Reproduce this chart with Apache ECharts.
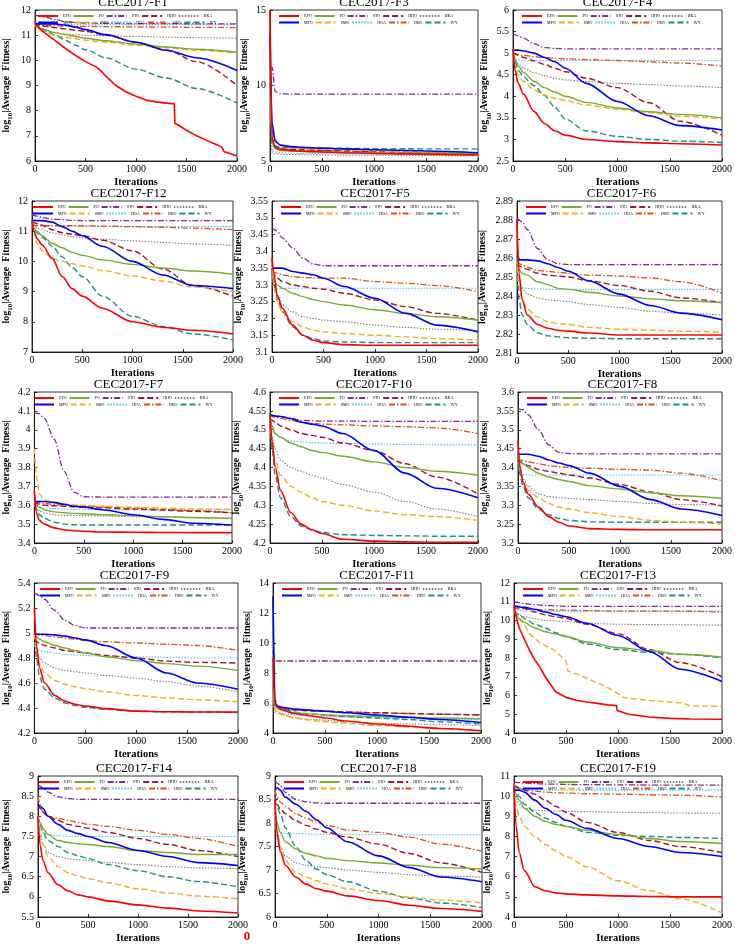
<!DOCTYPE html>
<html><head><meta charset="utf-8">
<script src="https://cdn.jsdelivr.net/npm/echarts/dist/echarts.min.js"></script>
<style>html,body{margin:0;padding:0;background:#fff}#c{width:735px;height:945px}</style>
</head><body><div id="c"></div><script>
const ITER = [0, 20, 50, 100, 200, 300, 400, 500, 700, 1000, 1300, 1600, 2000];
const NAMES = ['EPO','MPO','PO','SMO','STO','HOA','HHO','DBO','BKA','IVY'];
const LEG_ROW1 = ['EPO','PO','STO','HHO','BKA'];
const LEG_ROW2 = ['MPO','SMO','HOA','DBO','IVY'];
const TITLES = ['CEC2017-F1','CEC2017-F3','CEC2017-F4','CEC2017-F12','CEC2017-F5','CEC2017-F6','CEC2017-F7','CEC2017-F10','CEC2017-F8','CEC2017-F9','CEC2017-F11','CEC2017-F13','CEC2017-F14','CEC2017-F18','CEC2017-F19'];
const Y_MIN = [6, 5, 2.5, 7, 3.1, 2.81, 3.4, 4.2, 3.2, 4.2, 4, 4, 5.5, 6, 4];
const Y_MAX = [12, 15, 6, 12, 3.55, 2.89, 4.2, 4.6, 3.6, 5.4, 14, 12, 9, 9, 11];
const Y_INT = [1, 5, 0.5, 1, 0.05, 0.01, 0.1, 0.05, 0.05, 0.2, 2, 1, 0.5, 0.5, 1];
const X_TICKS = [0, 500, 1000, 1500, 2000];

// ---- F1 ----
const F1_EPO = [[0,11.5],[20,11.38],[50,11.25],[100,11.08],[200,10.78],[300,10.48],[400,10.2],[500,9.95],[600,9.75],[650,9.6],[700,9.38],[800,9.0],[900,8.75],[1000,8.57],[1100,8.42],[1200,8.35],[1300,8.3],[1380,8.27],[1385,7.5],[1450,7.35],[1500,7.22],[1600,7.0],[1700,6.82],[1800,6.65],[1850,6.55],[1870,6.38],[1950,6.27],[2000,6.2]];
const F1_MPO = [11.45,11.45,11.45,11.45,11.45,11.4,11.32,11.22,11.02,10.72,10.4,10.1,9.6];
const F1_PO  = [11.5,11.35,11.28,11.2,11.1,11.02,10.95,10.88,10.78,10.65,10.53,10.44,10.32];
const F1_SMO = [11.5,11.3,11.2,11.1,11.0,10.92,10.86,10.8,10.72,10.6,10.5,10.4,10.3];
const F1_STO = [11.8,11.78,11.76,11.72,11.62,11.53,11.5,11.48,11.47,11.46,11.46,11.45,11.45];
const F1_HOA = [11.5,11.46,11.44,11.43,11.42,11.42,11.42,11.42,11.42,11.42,11.42,11.42,11.42];
const F1_HHO = [11.55,11.45,11.4,11.35,11.3,11.25,11.2,11.15,11.0,10.72,10.4,9.95,9.0];
const F1_DBO = [11.5,11.42,11.4,11.38,11.37,11.36,11.35,11.35,11.34,11.33,11.32,11.31,11.3];
const F1_BKA = [11.5,11.3,11.2,11.15,11.1,11.05,11.02,11.0,10.98,10.95,10.92,10.9,10.88];
const F1_IVY = [11.5,11.4,11.3,11.2,11.0,10.8,10.6,10.42,10.1,9.65,9.3,8.88,8.3];
// ---- F3 ----
const F3_EPO = [15,6.5,5.9,5.75,5.7,5.65,5.62,5.6,5.55,5.5,5.47,5.44,5.4];
const F3_MPO = [13.5,7.5,6.3,6.05,5.95,5.9,5.88,5.85,5.8,5.75,5.7,5.65,5.55];
const F3_PO  = [12,6.2,5.8,5.7,5.65,5.63,5.62,5.6,5.58,5.55,5.53,5.52,5.5];
const F3_SMO = [12,7.0,6.5,6.0,5.9,5.85,5.82,5.8,5.75,5.7,5.62,5.56,5.5];
const F3_STO = [11.2,11.2,9.6,9.45,9.43,9.43,9.43,9.43,9.43,9.43,9.43,9.43,9.43];
const F3_HOA = [11,5.7,5.6,5.55,5.52,5.5,5.5,5.49,5.48,5.47,5.46,5.45,5.45];
const F3_HHO = [12,6.2,5.9,5.8,5.75,5.73,5.72,5.7,5.67,5.6,5.55,5.5,5.45];
const F3_DBO = [12,6.5,6.0,5.85,5.78,5.75,5.72,5.7,5.66,5.6,5.56,5.53,5.5];
const F3_BKA = [11,5.6,5.5,5.45,5.43,5.42,5.41,5.4,5.39,5.38,5.37,5.36,5.35];
const F3_IVY = [12,6.3,6.0,5.9,5.88,5.87,5.86,5.85,5.84,5.82,5.81,5.8,5.8];
// ---- F4 ----
const F4_EPO = [5.1,4.6,4.3,4.05,3.65,3.37,3.2,3.1,3.0,2.95,2.92,2.9,2.87];
const F4_MPO = [5.05,5.07,5.07,5.05,5.0,4.9,4.8,4.65,4.3,3.88,3.55,3.32,3.22];
const F4_PO  = [5.1,4.85,4.7,4.55,4.35,4.2,4.1,4.0,3.86,3.73,3.64,3.58,3.5];
const F4_SMO = [5.0,4.7,4.5,4.35,4.15,4.03,3.95,3.9,3.8,3.7,3.62,3.54,3.47];
const F4_STO = [5.45,5.43,5.4,5.35,5.22,5.13,5.11,5.1,5.1,5.1,5.1,5.1,5.1];
const F4_HOA = [4.9,4.86,4.84,4.83,4.83,4.83,4.83,4.83,4.83,4.83,4.83,4.83,4.83];
const F4_HHO = [5.0,4.98,4.95,4.9,4.82,4.74,4.65,4.57,4.42,4.2,3.85,3.42,3.1];
const F4_DBO = [5.0,4.98,4.97,4.95,4.92,4.9,4.88,4.87,4.85,4.83,4.8,4.77,4.7];
const F4_BKA = [4.95,4.85,4.75,4.65,4.55,4.48,4.42,4.38,4.34,4.3,4.27,4.24,4.2];
const F4_IVY = [5.0,4.8,4.6,4.45,4.25,4.02,3.75,3.47,3.2,3.07,3.0,2.96,2.93];
// ---- F12 ----
const F12_EPO = [11.35,11.0,10.75,10.55,10.1,9.5,9.1,8.85,8.45,8.0,7.82,7.72,7.6];
const F12_MPO = [11.35,11.35,11.35,11.35,11.3,11.15,11.0,10.85,10.5,10.0,9.55,9.2,9.1];
const F12_PO  = [11.3,11.1,11.0,10.85,10.6,10.45,10.3,10.2,10.05,9.9,9.78,9.68,9.57];
const F12_SMO = [11.3,11.0,10.6,10.35,10.1,10.0,9.92,9.85,9.7,9.52,9.35,9.15,9.0];
const F12_STO = [11.55,11.52,11.5,11.45,11.4,11.38,11.36,11.35,11.35,11.35,11.35,11.35,11.35];
const F12_HOA = [11.3,11.22,11.2,11.2,11.18,11.17,11.17,11.16,11.16,11.15,11.15,11.15,11.15];
const F12_HHO = [11.3,11.28,11.25,11.2,11.05,10.95,10.9,10.85,10.7,10.35,9.75,9.2,8.85];
const F12_DBO = [11.2,11.19,11.18,11.18,11.18,11.18,11.18,11.18,11.17,11.15,11.13,11.1,11.05];
const F12_BKA = [11.3,11.2,11.1,11.05,10.95,10.88,10.82,10.78,10.73,10.68,10.63,10.58,10.53];
const F12_IVY = [11.3,11.1,10.95,10.8,10.5,10.15,9.8,9.5,8.85,8.18,7.85,7.6,7.4];
// ---- F5 ----
const F5_EPO = [3.38,3.33,3.27,3.23,3.18,3.15,3.135,3.128,3.122,3.12,3.12,3.12,3.12];
const F5_MPO = [3.35,3.35,3.35,3.35,3.34,3.335,3.33,3.32,3.295,3.26,3.215,3.18,3.16];
const F5_PO  = [3.33,3.31,3.3,3.29,3.275,3.265,3.256,3.25,3.24,3.226,3.215,3.205,3.195];
const F5_SMO = [3.37,3.3,3.25,3.22,3.19,3.175,3.165,3.16,3.155,3.15,3.145,3.14,3.135];
const F5_STO = [3.47,3.465,3.46,3.44,3.41,3.38,3.362,3.357,3.357,3.357,3.357,3.357,3.357];
const F5_HOA = [3.3,3.292,3.29,3.29,3.29,3.29,3.29,3.29,3.29,3.29,3.29,3.29,3.29];
const F5_HHO = [3.34,3.33,3.32,3.31,3.3,3.295,3.29,3.287,3.275,3.255,3.235,3.215,3.195];
const F5_DBO = [3.34,3.337,3.335,3.33,3.325,3.322,3.321,3.32,3.32,3.31,3.305,3.298,3.28];
const F5_BKA = [3.33,3.3,3.27,3.24,3.22,3.205,3.2,3.195,3.19,3.18,3.173,3.168,3.163];
const F5_IVY = [3.35,3.3,3.26,3.22,3.175,3.15,3.14,3.133,3.13,3.128,3.128,3.128,3.128];
// ---- F6 ----
const F6_EPO = [2.88,2.852,2.838,2.83,2.825,2.823,2.822,2.8215,2.8205,2.8195,2.8195,2.8195,2.8195];
const F6_MPO = [2.859,2.859,2.859,2.859,2.8585,2.857,2.855,2.853,2.848,2.841,2.835,2.831,2.8275];
const F6_PO  = [2.858,2.854,2.852,2.851,2.8475,2.846,2.844,2.8435,2.842,2.84,2.8385,2.8375,2.8365];
const F6_SMO = [2.86,2.845,2.838,2.833,2.829,2.8265,2.8255,2.825,2.8235,2.8225,2.822,2.8215,2.821];
const F6_STO = [2.881,2.88,2.879,2.875,2.865,2.859,2.857,2.8565,2.8565,2.8565,2.8565,2.8565,2.8565];
const F6_HOA = [2.846,2.845,2.8445,2.844,2.8438,2.8435,2.8435,2.8435,2.8435,2.8435,2.8435,2.8435,2.8435];
const F6_HHO = [2.857,2.856,2.855,2.854,2.852,2.851,2.8505,2.85,2.848,2.8455,2.8425,2.839,2.8365];
const F6_DBO = [2.858,2.857,2.8565,2.855,2.8535,2.853,2.8525,2.852,2.851,2.8505,2.8495,2.8475,2.8415];
const F6_BKA = [2.855,2.848,2.844,2.841,2.839,2.838,2.8375,2.837,2.8355,2.834,2.832,2.831,2.83];
const F6_IVY = [2.86,2.838,2.83,2.825,2.8205,2.819,2.8185,2.818,2.8178,2.8175,2.8175,2.8175,2.8175];
// ---- F7 ----
const F7_EPO = [3.68,3.56,3.52,3.5,3.48,3.47,3.465,3.462,3.458,3.457,3.456,3.455,3.455];
const F7_MPO = [3.62,3.62,3.62,3.62,3.615,3.605,3.595,3.59,3.575,3.55,3.525,3.505,3.495];
const F7_PO  = [3.62,3.6,3.59,3.575,3.565,3.56,3.557,3.555,3.55,3.545,3.54,3.535,3.53];
const F7_SMO = [3.9,3.75,3.66,3.63,3.61,3.605,3.602,3.6,3.595,3.59,3.585,3.58,3.578];
const F7_STO = [4.09,4.088,4.085,4.06,3.95,3.78,3.67,3.645,3.643,3.643,3.643,3.643,3.643];
const F7_HOA = [3.6,3.595,3.59,3.585,3.582,3.58,3.578,3.577,3.576,3.575,3.575,3.575,3.575];
const F7_HHO = [3.62,3.61,3.605,3.6,3.597,3.595,3.592,3.59,3.586,3.58,3.574,3.568,3.56];
const F7_DBO = [3.62,3.615,3.612,3.61,3.605,3.6,3.597,3.595,3.59,3.585,3.578,3.572,3.56];
const F7_BKA = [3.6,3.58,3.57,3.56,3.55,3.547,3.546,3.545,3.543,3.54,3.537,3.534,3.53];
const F7_IVY = [3.65,3.58,3.55,3.53,3.51,3.5,3.497,3.495,3.495,3.495,3.495,3.495,3.495];
// ---- F10 ----
const F10_EPO = [4.54,4.47,4.4,4.34,4.28,4.25,4.235,4.225,4.21,4.205,4.203,4.202,4.202];
const F10_MPO = [4.54,4.538,4.536,4.535,4.53,4.52,4.515,4.51,4.49,4.445,4.385,4.345,4.32];
const F10_PO  = [4.53,4.51,4.49,4.48,4.465,4.455,4.445,4.44,4.43,4.415,4.4,4.39,4.38];
const F10_SMO = [4.53,4.47,4.42,4.38,4.35,4.335,4.32,4.31,4.3,4.285,4.275,4.27,4.26];
const F10_STO = [4.54,4.538,4.537,4.535,4.53,4.525,4.524,4.523,4.523,4.522,4.522,4.522,4.522];
const F10_HOA = [4.5,4.495,4.49,4.48,4.47,4.468,4.466,4.465,4.464,4.462,4.461,4.46,4.46];
const F10_HHO = [4.53,4.525,4.52,4.51,4.5,4.49,4.485,4.48,4.465,4.445,4.41,4.375,4.33];
const F10_DBO = [4.54,4.535,4.533,4.53,4.525,4.52,4.517,4.515,4.513,4.51,4.508,4.505,4.49];
const F10_BKA = [4.52,4.48,4.45,4.42,4.4,4.39,4.38,4.372,4.355,4.335,4.31,4.29,4.27];
const F10_IVY = [4.54,4.45,4.38,4.32,4.27,4.245,4.235,4.228,4.222,4.22,4.219,4.218,4.218];
// ---- F8 ----
const F8_EPO = [3.47,3.4,3.36,3.33,3.295,3.27,3.255,3.245,3.238,3.236,3.235,3.235,3.235];
const F8_MPO = [3.435,3.435,3.435,3.435,3.43,3.42,3.412,3.405,3.385,3.35,3.315,3.29,3.273];
const F8_PO  = [3.43,3.42,3.41,3.4,3.385,3.375,3.368,3.363,3.352,3.343,3.333,3.325,3.318];
const F8_SMO = [3.46,3.4,3.36,3.34,3.32,3.305,3.295,3.29,3.28,3.27,3.26,3.255,3.25];
const F8_STO = [3.555,3.554,3.553,3.54,3.5,3.46,3.44,3.437,3.436,3.436,3.436,3.436,3.436];
const F8_HOA = [3.4,3.385,3.381,3.38,3.38,3.38,3.38,3.38,3.38,3.38,3.38,3.38,3.38];
const F8_HHO = [3.42,3.415,3.41,3.405,3.395,3.39,3.385,3.38,3.372,3.355,3.335,3.315,3.298];
const F8_DBO = [3.425,3.42,3.418,3.415,3.41,3.405,3.402,3.4,3.398,3.395,3.393,3.385,3.365];
const F8_BKA = [3.43,3.39,3.37,3.35,3.33,3.323,3.32,3.318,3.315,3.31,3.305,3.302,3.3];
const F8_IVY = [3.44,3.38,3.35,3.32,3.29,3.275,3.265,3.26,3.256,3.255,3.255,3.255,3.255];
// ---- F9 ----
const F9_EPO = [5.2,4.9,4.72,4.6,4.5,4.455,4.43,4.415,4.395,4.375,4.37,4.368,4.367];
const F9_MPO = [4.99,4.99,4.99,4.99,4.985,4.975,4.96,4.945,4.9,4.8,4.68,4.6,4.55];
const F9_PO  = [5.0,4.97,4.95,4.93,4.9,4.88,4.86,4.84,4.81,4.78,4.755,4.735,4.7];
const F9_SMO = [5.0,4.85,4.75,4.68,4.62,4.59,4.57,4.555,4.53,4.5,4.48,4.465,4.45];
const F9_STO = [5.32,5.31,5.3,5.27,5.18,5.1,5.06,5.04,5.04,5.04,5.04,5.04,5.04];
const F9_HOA = [4.9,4.87,4.86,4.85,4.84,4.83,4.825,4.82,4.815,4.81,4.805,4.8,4.8];
const F9_HHO = [4.95,4.93,4.92,4.9,4.88,4.86,4.85,4.84,4.82,4.8,4.775,4.765,4.76];
const F9_DBO = [5.0,4.99,4.985,4.98,4.97,4.96,4.95,4.94,4.93,4.92,4.91,4.9,4.86];
const F9_BKA = [4.95,4.85,4.8,4.76,4.72,4.7,4.69,4.68,4.66,4.64,4.61,4.575,4.53];
const F9_IVY = [5.0,4.8,4.65,4.55,4.48,4.44,4.42,4.405,4.39,4.375,4.37,4.368,4.365];
// ---- F11 ----
const F11_EPO = [9,5.9,5.7,5.5,5.3,5.2,5.1,5.0,4.8,4.6,4.45,4.3,4.15];
const F11_MPO = [13.1,6.0,5.75,5.7,5.6,5.55,5.5,5.45,5.35,5.2,5.05,4.9,4.7];
const F11_PO  = [7,5.8,5.6,5.5,5.35,5.3,5.25,5.2,5.15,5.1,5.05,5.0,4.95];
const F11_SMO = [7,5.5,5.35,5.2,5.0,4.9,4.82,4.75,4.65,4.5,4.4,4.3,4.15];
const F11_STO = [9.5,8.8,8.8,8.8,8.8,8.8,8.8,8.8,8.8,8.8,8.8,8.8,8.8];
const F11_HOA = [6,5.5,5.4,5.3,5.2,5.15,5.12,5.1,5.05,5.0,4.97,4.94,4.9];
const F11_HHO = [7,5.8,5.7,5.6,5.55,5.5,5.47,5.45,5.4,5.35,5.3,5.25,5.2];
const F11_DBO = [7,5.8,5.75,5.65,5.55,5.5,5.47,5.45,5.4,5.35,5.3,5.25,5.22];
const F11_BKA = [6,5.4,5.3,5.2,5.05,4.95,4.9,4.85,4.75,4.65,4.6,4.55,4.5];
const F11_IVY = [7,6.2,5.8,5.6,5.4,5.3,5.25,5.2,5.1,5.0,4.9,4.75,4.6];
// ---- F13 ----
const F13_EPO = [[0,10.8],[20,10.2],[50,9.6],[100,9.0],[150,8.4],[200,7.9],[250,7.5],[300,7.0],[350,6.6],[400,6.2],[450,6.05],[500,5.9],[600,5.75],[700,5.65],[800,5.58],[900,5.5],[985,5.47],[992,5.2],[1100,5.0],[1300,4.85],[1500,4.78],[1700,4.75],[2000,4.73]];
const F13_MPO = [10.75,10.73,10.72,10.7,10.6,10.45,10.32,10.2,9.85,9.2,8.35,7.4,6.75];
const F13_PO  = [10.5,10.3,10.1,9.9,9.6,9.4,9.28,9.15,8.85,8.55,8.4,8.2,8.05];
const F13_SMO = [[0,10.5],[40,10.1],[90,9.85],[150,9.3],[250,8.8],[380,8.45],[500,7.85],[520,7.3],[600,7.15],[730,6.85],[890,6.45],[1000,6.1],[1050,5.9],[1100,5.85],[1370,5.7],[1625,5.6],[1690,5.45],[2000,5.42]];
const F13_STO = [11.0,10.98,10.95,10.9,10.85,10.8,10.78,10.75,10.75,10.75,10.75,10.75,10.75];
const F13_HOA = [10.6,10.57,10.55,10.5,10.5,10.5,10.5,10.5,10.5,10.5,10.5,10.5,10.5];
const F13_HHO = [10.8,10.78,10.75,10.65,10.45,10.3,10.2,10.1,9.8,9.3,8.45,7.75,7.0];
const F13_DBO = [10.7,10.65,10.62,10.6,10.58,10.57,10.56,10.55,10.53,10.5,10.5,10.5,10.45];
const F13_BKA = [10.6,10.4,10.3,10.2,10.1,10.0,9.97,9.95,9.85,9.8,9.78,9.77,9.75];
const F13_IVY = [10.5,10.4,10.3,10.1,9.8,9.6,9.35,9.15,8.75,8.45,8.3,8.2,8.0];
// ---- F14 ----
const F14_EPO = [8.0,7.3,6.9,6.6,6.3,6.15,6.05,6.0,5.9,5.8,5.72,5.65,5.6];
const F14_MPO = [8.3,8.25,8.2,8.0,7.8,7.65,7.57,7.5,7.35,7.15,7.0,6.85,6.78];
const F14_PO  = [8.0,7.85,7.7,7.55,7.4,7.35,7.32,7.3,7.25,7.15,7.1,7.05,7.05];
const F14_SMO = [8.0,7.6,7.3,7.0,6.75,6.6,6.52,6.45,6.35,6.2,6.1,6.02,5.95];
const F14_STO = [8.8,8.75,8.7,8.6,8.48,8.44,8.42,8.42,8.42,8.42,8.42,8.42,8.42];
const F14_HOA = [7.8,7.65,7.6,7.55,7.52,7.5,7.5,7.5,7.5,7.5,7.5,7.5,7.5];
const F14_HHO = [8.3,8.2,8.1,8.0,7.9,7.8,7.75,7.7,7.6,7.45,7.3,7.15,7.0];
const F14_DBO = [8.5,8.3,8.1,8.0,7.95,7.9,7.85,7.8,7.75,7.65,7.55,7.45,7.25];
const F14_BKA = [7.8,7.5,7.3,7.1,7.0,6.95,6.92,6.9,6.85,6.8,6.75,6.72,6.7];
const F14_IVY = [8.0,7.8,7.6,7.4,7.25,7.1,7.02,6.95,6.8,6.65,6.5,6.38,6.25];
// ---- F18 ----
const F18_EPO = [8.5,7.8,7.4,7.1,6.85,6.7,6.6,6.55,6.45,6.35,6.25,6.18,6.12];
const F18_MPO = [8.7,8.75,8.7,8.55,8.4,8.25,8.07,7.9,7.6,7.3,7.05,6.85,6.75];
const F18_PO  = [8.3,8.0,7.8,7.6,7.45,7.35,7.3,7.25,7.2,7.15,7.1,7.05,7.02];
const F18_SMO = [8.3,7.8,7.5,7.2,6.95,6.85,6.77,6.7,6.6,6.5,6.42,6.36,6.3];
const F18_STO = [8.9,8.85,8.8,8.65,8.5,8.45,8.43,8.42,8.42,8.42,8.42,8.42,8.42];
const F18_HOA = [8.0,7.85,7.8,7.78,7.77,7.77,7.76,7.76,7.76,7.75,7.75,7.75,7.75];
const F18_HHO = [8.6,8.4,8.3,8.2,8.05,7.95,7.87,7.8,7.7,7.55,7.35,7.15,6.95];
const F18_DBO = [8.7,8.55,8.45,8.35,8.2,8.1,8.02,7.95,7.85,7.8,7.7,7.55,7.4];
const F18_BKA = [8.0,7.7,7.5,7.3,7.15,7.1,7.07,7.05,7.0,6.95,6.9,6.87,6.85];
const F18_IVY = [8.5,8.35,8.2,7.9,7.5,7.2,7.02,6.9,6.75,6.55,6.4,6.3,6.2];
// ---- F19 ----
const F19_EPO = [10.5,8.5,7.2,6.3,5.5,5.3,5.2,5.15,5.1,5.05,5.02,5.0,5.0];
const F19_MPO = [10.3,10.3,10.3,10.2,9.8,9.4,9.1,8.8,8.4,7.9,7.5,7.2,7.0];
const F19_PO  = [10.5,10.1,9.8,9.4,9.0,8.75,8.6,8.5,8.3,8.1,7.9,7.75,7.65];
const F19_SMO = [10.2,9.5,9.0,8.5,8.0,7.6,7.3,7.0,6.5,5.8,5.3,4.9,4.2];
const F19_STO = [10.7,10.68,10.67,10.65,10.62,10.6,10.6,10.58,10.57,10.56,10.55,10.55,10.55];
const F19_HOA = [10.5,10.4,10.35,10.3,10.3,10.3,10.3,10.3,10.3,10.3,10.3,10.3,10.3];
const F19_HHO = [10.5,10.45,10.4,10.3,10.1,9.8,9.5,9.2,8.7,8.2,7.8,7.5,7.2];
const F19_DBO = [10.6,10.5,10.4,10.3,10.25,10.2,10.17,10.15,10.12,10.1,10.07,10.05,9.95];
const F19_BKA = [10.3,9.9,9.6,9.4,9.3,9.28,9.26,9.25,9.23,9.2,9.18,9.16,9.15];
const F19_IVY = [10.5,10.2,10.0,9.6,9.2,8.9,8.7,8.5,8.2,8.05,8.0,7.95,7.9];

const PANEL_DATA = [
 {EPO:F1_EPO,MPO:F1_MPO,PO:F1_PO,SMO:F1_SMO,STO:F1_STO,HOA:F1_HOA,HHO:F1_HHO,DBO:F1_DBO,BKA:F1_BKA,IVY:F1_IVY},
 {EPO:F3_EPO,MPO:F3_MPO,PO:F3_PO,SMO:F3_SMO,STO:F3_STO,HOA:F3_HOA,HHO:F3_HHO,DBO:F3_DBO,BKA:F3_BKA,IVY:F3_IVY},
 {EPO:F4_EPO,MPO:F4_MPO,PO:F4_PO,SMO:F4_SMO,STO:F4_STO,HOA:F4_HOA,HHO:F4_HHO,DBO:F4_DBO,BKA:F4_BKA,IVY:F4_IVY},
 {EPO:F12_EPO,MPO:F12_MPO,PO:F12_PO,SMO:F12_SMO,STO:F12_STO,HOA:F12_HOA,HHO:F12_HHO,DBO:F12_DBO,BKA:F12_BKA,IVY:F12_IVY},
 {EPO:F5_EPO,MPO:F5_MPO,PO:F5_PO,SMO:F5_SMO,STO:F5_STO,HOA:F5_HOA,HHO:F5_HHO,DBO:F5_DBO,BKA:F5_BKA,IVY:F5_IVY},
 {EPO:F6_EPO,MPO:F6_MPO,PO:F6_PO,SMO:F6_SMO,STO:F6_STO,HOA:F6_HOA,HHO:F6_HHO,DBO:F6_DBO,BKA:F6_BKA,IVY:F6_IVY},
 {EPO:F7_EPO,MPO:F7_MPO,PO:F7_PO,SMO:F7_SMO,STO:F7_STO,HOA:F7_HOA,HHO:F7_HHO,DBO:F7_DBO,BKA:F7_BKA,IVY:F7_IVY},
 {EPO:F10_EPO,MPO:F10_MPO,PO:F10_PO,SMO:F10_SMO,STO:F10_STO,HOA:F10_HOA,HHO:F10_HHO,DBO:F10_DBO,BKA:F10_BKA,IVY:F10_IVY},
 {EPO:F8_EPO,MPO:F8_MPO,PO:F8_PO,SMO:F8_SMO,STO:F8_STO,HOA:F8_HOA,HHO:F8_HHO,DBO:F8_DBO,BKA:F8_BKA,IVY:F8_IVY},
 {EPO:F9_EPO,MPO:F9_MPO,PO:F9_PO,SMO:F9_SMO,STO:F9_STO,HOA:F9_HOA,HHO:F9_HHO,DBO:F9_DBO,BKA:F9_BKA,IVY:F9_IVY},
 {EPO:F11_EPO,MPO:F11_MPO,PO:F11_PO,SMO:F11_SMO,STO:F11_STO,HOA:F11_HOA,HHO:F11_HHO,DBO:F11_DBO,BKA:F11_BKA,IVY:F11_IVY},
 {EPO:F13_EPO,MPO:F13_MPO,PO:F13_PO,SMO:F13_SMO,STO:F13_STO,HOA:F13_HOA,HHO:F13_HHO,DBO:F13_DBO,BKA:F13_BKA,IVY:F13_IVY},
 {EPO:F14_EPO,MPO:F14_MPO,PO:F14_PO,SMO:F14_SMO,STO:F14_STO,HOA:F14_HOA,HHO:F14_HHO,DBO:F14_DBO,BKA:F14_BKA,IVY:F14_IVY},
 {EPO:F18_EPO,MPO:F18_MPO,PO:F18_PO,SMO:F18_SMO,STO:F18_STO,HOA:F18_HOA,HHO:F18_HHO,DBO:F18_DBO,BKA:F18_BKA,IVY:F18_IVY},
 {EPO:F19_EPO,MPO:F19_MPO,PO:F19_PO,SMO:F19_SMO,STO:F19_STO,HOA:F19_HOA,HHO:F19_HHO,DBO:F19_DBO,BKA:F19_BKA,IVY:F19_IVY}
];

// ---- layout & style (not data) ----
const BOXES = [
 [29,10,237,161],[270,10,478,161],[513,10,722,161],
 [24,201,233,352],[272,201,478,352],[517,201,726,353],
 [25,392,232,543],[270,392,478,543],[518,392,727,543],
 [31,583,238,733],[273,583,481,733],[514,583,722,733],
 [30,776,238,922],[275,776,482,922],[514,776,722,922]
];
const NAME_GAP = [14,11,12,11,18,20,13,16,19,13,11,12,17,18,12];
const FONT = 'Liberation Serif';
const STYLE = {
 EPO:{color:'#ff0000', type:'solid', width:1.6},
 MPO:{color:'#0000ff', type:'solid', width:1.6},
 PO:{color:'#77ac30', type:'solid', width:1.4},
 SMO:{color:'#edb120', type:[6,3], width:1.4},
 STO:{color:'#7e2f8e', type:[6,2,1.5,2], width:1.3},
 HOA:{color:'#4dbeee', type:[1.5,1.5], width:1.1},
 HHO:{color:'#a2142f', type:[6,3], width:1.4},
 DBO:{color:'#d95319', type:[6,2,1.5,2], width:1.3},
 BKA:{color:'#808080', type:[1.5,1.5], width:1.1},
 IVY:{color:'#1a9088', type:[6,3], width:1.4}
};
const DRAW_ORDER = ['BKA','HOA','DBO','STO','HHO','IVY','SMO','PO','MPO','EPO'];

const grids=[], xAxes=[], yAxes=[], series=[], legends=[], graphics=[];
BOXES.forEach((b,i)=>{
  const [l,t,r,bt] = b;
  grids.push({left:l, top:t, width:r-l, height:bt-t, show:true, borderColor:'#000', borderWidth:0.8, backgroundColor:'#fff'});
  xAxes.push({type:'value', gridIndex:i, min:X_TICKS[0], max:X_TICKS[X_TICKS.length-1], interval:X_TICKS[1]-X_TICKS[0],
    name:'Iterations', nameLocation:'middle', nameGap:16,
    nameTextStyle:{fontFamily:FONT, fontWeight:'bold', fontSize:10.5, color:'#000'},
    axisLine:{show:true, lineStyle:{color:'#000', width:0.8}},
    axisTick:{show:true, inside:true, length:3, lineStyle:{color:'#000', width:0.8}},
    axisLabel:{fontFamily:FONT, fontSize:10, color:'#000', margin:3, formatter:(v)=>String(v)},
    splitLine:{show:false}});
  yAxes.push({type:'value', gridIndex:i, min:Y_MIN[i], max:Y_MAX[i], interval:Y_INT[i],
    name:'log{s|10}|Average  Fitness|', nameLocation:'middle', nameGap:NAME_GAP[i]+10, nameRotate:90,
    nameTextStyle:{fontFamily:FONT, fontWeight:'bold', fontSize:10, color:'#000',
      rich:{s:{fontFamily:FONT, fontWeight:'bold', fontSize:7, color:'#000', verticalAlign:'bottom', padding:[0,0,-3,0]}}},
    axisLine:{show:true, lineStyle:{color:'#000', width:0.8}},
    axisTick:{show:true, inside:true, length:3, lineStyle:{color:'#000', width:0.8}},
    axisLabel:{fontFamily:FONT, fontSize:10, color:'#000', margin:4},
    splitLine:{show:false}});
  DRAW_ORDER.forEach(n=>{
    const arr = PANEL_DATA[i][n];
    const pairs = Array.isArray(arr[0]);
    const data = pairs ? arr : arr.map((v,k)=>[ITER[k], v]);
    const st = STYLE[n];
    series.push({type:'line', name:n, xAxisIndex:i, yAxisIndex:i, data:data, symbol:'none', showSymbol:false,
      smooth: pairs ? false : 0.3, smoothMonotone:'x', clip:true, silent:true,
      lineStyle:{color:st.color, type:st.type, width:st.width}, itemStyle:{color:st.color}});
  });
  [LEG_ROW1, LEG_ROW2].forEach((row,ri)=>{
    legends.push({data:row, left:l+8, top:t+4+ri*6.5, orient:'horizontal', itemWidth:20, itemHeight:5, itemGap:2, padding:0,
      selectedMode:false,
      itemStyle:{color:'rgba(0,0,0,0)', borderColor:'rgba(0,0,0,0)', borderWidth:0, opacity:0},
      textStyle:{fontFamily:FONT, fontSize:4, color:'#000', width:10, overflow:'none'}});
  });
  graphics.push({type:'text', x:(l+r)/2, y:t-7, style:{text:TITLES[i], align:'center', verticalAlign:'middle', fontFamily:FONT, fontSize:13, fill:'#000'}});
});
graphics.push({type:'text', x:247, y:937, style:{text:'0', align:'center', verticalAlign:'middle', fontFamily:FONT, fontSize:13, fontWeight:'bold', fill:'#e00000'}});

const chart = echarts.init(document.getElementById('c'), null, {renderer:'canvas'});
chart.setOption({animation:false, backgroundColor:'#fff', grid:grids, xAxis:xAxes, yAxis:yAxes, series:series, legend:legends, graphic:graphics, tooltip:{show:false}});
</script></body></html>
